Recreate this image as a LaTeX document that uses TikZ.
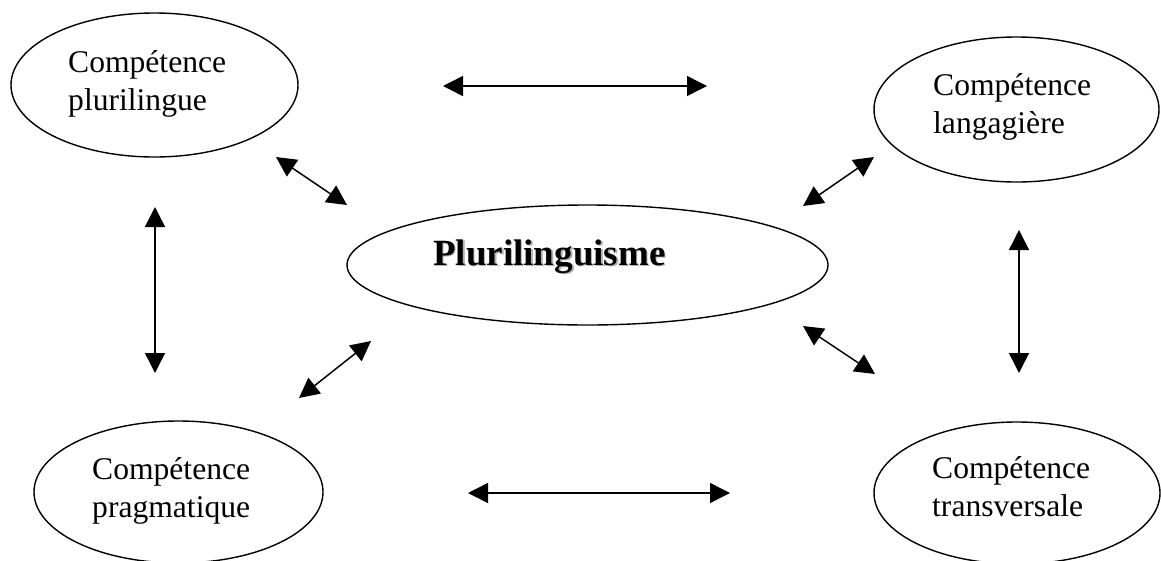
\documentclass[tikz,border=0pt]{standalone}
\usepackage{fontspec}
\setmainfont{Liberation Serif}
\usetikzlibrary{arrows.meta,shapes.geometric}
\begin{document}
\begin{tikzpicture}[x=1pt,y=-1pt,
  ell/.style={draw=black,line width=1.4pt,ellipse,inner sep=0pt},
  lbl/.style={anchor=base west,inner sep=0pt,font=\fontsize{31.6}{38}\selectfont},
  arr/.style={line width=1.5pt,{Triangle[length=20pt,width=20pt]}-{Triangle[length=20pt,width=20pt]}}]
\useasboundingbox (0,0) rectangle (1161,560);
% ellipses
\node[ell,minimum width=287pt,minimum height=144pt] (pluri) at (154.5,85) {};
\node[ell,minimum width=285pt,minimum height=145pt] (lang) at (1016.5,109.5) {};
\node[ell,minimum width=289pt,minimum height=142pt] (prag) at (178.5,492) {};
\node[ell,minimum width=286pt,minimum height=142pt] (trans) at (1017,493) {};
\node[ell,minimum width=481pt,minimum height=120pt] (centre) at (587.5,265) {};
% labels
\node[lbl] (pluriT) at (68,72) {\vtop{\hbox{Compétence}\hbox{plurilingue}}};
\node[lbl] (langT) at (933,95) {\vtop{\hbox{Compétence}\hbox{langagière}}};
\node[lbl] (pragT) at (92,479) {\vtop{\hbox{Compétence}\hbox{pragmatique}}};
\node[lbl] (transT) at (932,478) {\vtop{\hbox{Compétence}\hbox{transversale}}};
\node[anchor=base west,inner sep=0pt,text=black!30,font=\fontsize{37}{44}\selectfont\bfseries] (centreS) at (434.5,266.5) {Plurilinguisme};
\node[anchor=base west,inner sep=0pt,font=\fontsize{37}{44}\selectfont\bfseries] (centreT) at (433,265) {Plurilinguisme};
% arrow end points
\coordinate (h1a) at (443,86);  \coordinate (h1b) at (707,86);
\coordinate (h2a) at (468,493); \coordinate (h2b) at (730,493);
\coordinate (v1a) at (155,207); \coordinate (v1b) at (155,373);
\coordinate (v2a) at (1019,230); \coordinate (v2b) at (1019,373);
\coordinate (d1a) at (276,157); \coordinate (d1b) at (347,205);
\coordinate (d2a) at (874,157); \coordinate (d2b) at (803,206);
\coordinate (d3a) at (803,326); \coordinate (d3b) at (875,374);
\coordinate (d4a) at (371,341); \coordinate (d4b) at (299,398);
\draw[arr] (h1a) -- (h1b);
\draw[arr] (h2a) -- (h2b);
\draw[arr] (v1a) -- (v1b);
\draw[arr] (v2a) -- (v2b);
\draw[arr] (d1a) -- (d1b);
\draw[arr] (d2a) -- (d2b);
\draw[arr] (d3a) -- (d3b);
\draw[arr] (d4a) -- (d4b);
\end{tikzpicture}
\end{document}
